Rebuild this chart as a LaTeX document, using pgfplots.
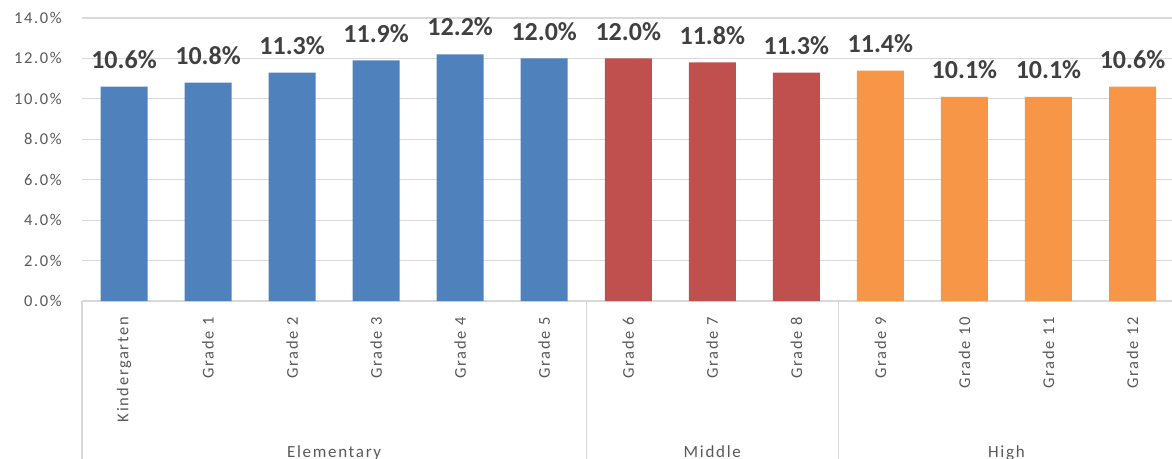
\documentclass[border=0pt]{standalone}
\usepackage{pgfplots}
\pgfplotsset{compat=1.18}
\usepackage{fontspec}
\setmainfont{Carlito}
\newfontfamily\spaced[LetterSpace=10]{Carlito}
\definecolor{eblue}{HTML}{4F81BD}
\definecolor{ered}{HTML}{C0504D}
\definecolor{eorange}{HTML}{F79646}
\definecolor{lgray}{HTML}{D9D9D9}
\definecolor{tgray}{HTML}{595959}
\definecolor{lblack}{HTML}{404040}
\begin{document}
\begin{tikzpicture}
\begin{axis}[name=ax, scale only axis, width=1090pt, height=283pt,
  xmin=-0.5, xmax=12.47, ymin=0, ymax=14,
  axis x line*=bottom, axis y line*=left,
  x axis line style={draw=lgray, line width=1.2pt, -},
  y axis line style={draw=none},
  major tick length=0pt,
  ymajorgrids, grid style={lgray, line width=1.2pt},
  ytick={0,2,4,6,8,10,12,14},
  yticklabels={0.0\%,2.0\%,4.0\%,6.0\%,8.0\%,10.0\%,12.0\%,14.0\%},
  yticklabel style={font=\spaced\fontsize{16.5}{18}\selectfont, text=tgray, anchor=east, inner sep=0pt},
  yticklabel shift=20pt,
  xtick={0,...,12},
  xticklabels={Kindergarten,Grade 1,Grade 2,Grade 3,Grade 4,Grade 5,Grade 6,Grade 7,Grade 8,Grade 9,Grade 10,Grade 11,Grade 12},
  xticklabel style={font=\spaced\fontsize{16.5}{18}\selectfont, text=tgray, rotate=90, anchor=east, inner sep=0pt},
  xticklabel shift=16pt,
  clip=false,
  nodes near coords={\pgfmathprintnumber[fixed,fixed zerofill,precision=1,assume math mode=true]{\pgfplotspointmeta}\%},
  every node near coord/.append style={font=\bfseries\fontsize{26}{28}\selectfont, text=lblack, inner sep=0pt, anchor=south, yshift=18pt},
]
\addplot[ybar, bar width=47pt, bar shift=0pt, fill=eblue, draw=none] coordinates {(0,10.6)(1,10.8)(2,11.3)(3,11.9)(4,12.2)(5,12.0)};
\addplot[ybar, bar width=47pt, bar shift=0pt, fill=ered, draw=none] coordinates {(6,12.0)(7,11.8)(8,11.3)};
\addplot[ybar, bar width=47pt, bar shift=0pt, fill=eorange, draw=none] coordinates {(9,11.4)(10,10.1)(11,10.1)(12,10.6)};
\draw[lgray, line width=1.2pt] (axis cs:-0.5,0) -- ([yshift=-160pt]axis cs:-0.5,0);
\draw[lgray, line width=1.2pt] (axis cs:5.5,0) -- ([yshift=-160pt]axis cs:5.5,0);
\draw[lgray, line width=1.2pt] (axis cs:8.5,0) -- ([yshift=-160pt]axis cs:8.5,0);
\node[font=\spaced\fontsize{17}{19}\selectfont, text=tgray, anchor=base] at ([yshift=-156pt]axis cs:2.5,0) {Elementary};
\node[font=\spaced\fontsize{17}{19}\selectfont, text=tgray, anchor=base] at ([yshift=-156pt]axis cs:7,0) {Middle};
\node[font=\spaced\fontsize{17}{19}\selectfont, text=tgray, anchor=base] at ([yshift=-156pt]axis cs:10.5,0) {High};
\end{axis}
\pgfresetboundingbox
\path[use as bounding box] ([xshift=-82pt,yshift=-158pt]ax.south west) rectangle ([yshift=18pt]ax.north east);
\end{tikzpicture}
\end{document}
